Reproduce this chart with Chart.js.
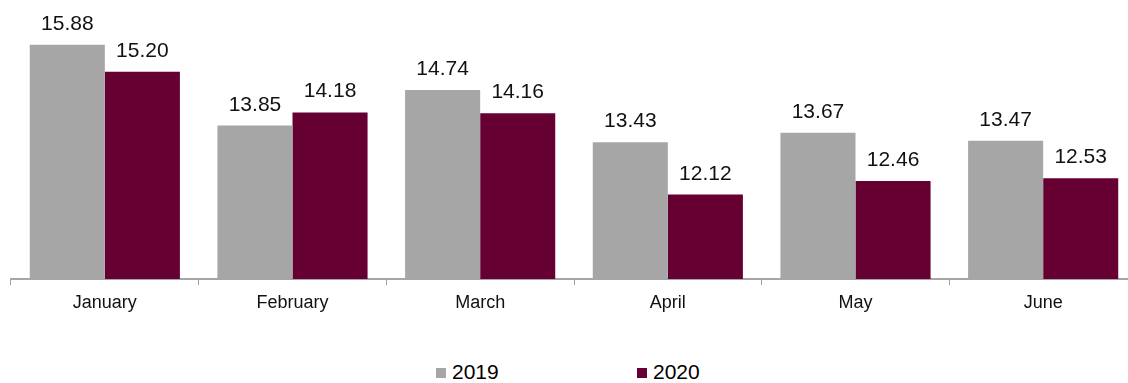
<!DOCTYPE html>
<html>
<head>
<meta charset="utf-8">
<script src="https://cdn.jsdelivr.net/npm/chart.js@4/dist/chart.umd.min.js"></script>
<style>
    html, body { margin: 0; padding: 0; background: #fff; overflow: hidden; }
    #wrap { position: relative; width: 1128px; height: 383px; overflow: hidden; }
    #chart { position: absolute; left: 0; top: 0; }
    .legend-item { position: absolute; top: 361px; height: 21px; font: 21px "Liberation Sans", Arial, sans-serif; line-height: 21px; color: #000; white-space: nowrap; }
    .legend-box { position: absolute; top: 7px; left: 0; width: 10px; height: 10px; }
    .legend-text { position: absolute; left: 16px; top: 0; }
</style>
</head>
<body>
<div id="wrap">
    <canvas id="chart" width="1138" height="320"></canvas>
    <div id="legend"></div>
</div>
<script>
(() => {
    const months = ['January', 'February', 'March', 'April', 'May', 'June'];
    const values2019 = [15.88, 13.85, 14.74, 13.43, 13.67, 13.47];
    const values2020 = [15.20, 14.18, 14.16, 12.12, 12.46, 12.53];
    const seriesNames = ['2019', '2020'];
    const seriesColors = ['#a6a6a6', '#660033'];

    const FONT = '"Liberation Sans", Arial, sans-serif';

    // value labels above each bar
    const barValues = {
        id: 'barValues',
        afterDatasetsDraw(chart) {
            const ctx = chart.ctx;
            ctx.save();
            ctx.font = '21px ' + FONT;
            ctx.fillStyle = '#111';
            ctx.textAlign = 'center';
            ctx.textBaseline = 'alphabetic';
            chart.data.datasets.forEach((ds, i) => {
                const meta = chart.getDatasetMeta(i);
                meta.data.forEach((bar, j) => {
                    ctx.fillText(ds.data[j].toFixed(2), bar.x, bar.y - 15);
                });
            });
            ctx.restore();
        }
    };

    new Chart(document.getElementById('chart').getContext('2d'), {
        type: 'bar',
        data: {
            labels: months,
            datasets: [
                { label: seriesNames[0], data: values2019, backgroundColor: seriesColors[0] },
                { label: seriesNames[1], data: values2020, backgroundColor: seriesColors[1] }
            ]
        },
        options: {
            responsive: false,
            animation: false,
            devicePixelRatio: 1,
            layout: { padding: { left: 11, right: 1, top: 0, bottom: 0 } },
            datasets: { bar: { categoryPercentage: 0.8, barPercentage: 1.0, borderWidth: 0 } },
            plugins: {
                legend: { display: false },
                tooltip: { enabled: false }
            },
            scales: {
                x: {
                    grid: { display: true, drawOnChartArea: false, drawTicks: true, tickLength: 6, color: '#a0a0a0', lineWidth: 1, offset: true },
                    border: { display: true, color: '#a6a6a6', width: 2 },
                    ticks: { color: '#111', font: { family: FONT, size: 18 }, padding: 7, maxRotation: 0 },
                    afterFit(scale) { scale.height = 41; }
                },
                y: {
                    display: false,
                    min: 10,
                    max: 17
                }
            }
        },
        plugins: [barValues]
    });

    // legend below the chart
    const legend = document.getElementById('legend');
    const legendLeft = [436, 637];
    seriesNames.forEach((name, i) => {
        const item = document.createElement('div');
        item.className = 'legend-item';
        item.style.left = legendLeft[i] + 'px';
        item.innerHTML = `<span class="legend-box" style="background:${seriesColors[i]}"></span><span class="legend-text">${name}</span>`;
        legend.appendChild(item);
    });
})();
</script>
</body>
</html>
